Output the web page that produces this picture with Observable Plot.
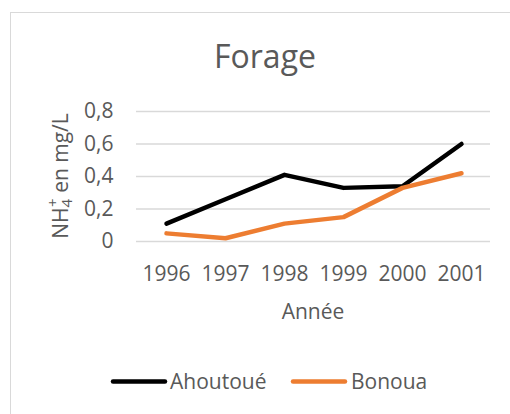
<!DOCTYPE html>
<html><head><meta charset="utf-8">
<script src="https://cdn.jsdelivr.net/npm/d3@7"></script>
<script src="https://cdn.jsdelivr.net/npm/@observablehq/plot@0.6"></script>
<style>body{margin:0;background:#fff;}svg{display:block;}</style>
</head><body><div id="chart"></div>
<script>
const years = ["1996","1997","1998","1999","2000","2001"];
const ahoutoue = [0.11, 0.26, 0.41, 0.33, 0.34, 0.60];
const bonoua = [0.05, 0.02, 0.11, 0.15, 0.33, 0.42];
const seriesNames = ["Ahoutoué", "Bonoua"];
const seriesColors = ["#000000", "#ED7D31"];
const yTicks = [0, 0.2, 0.4, 0.6, 0.8];

const data = [];
years.forEach((y, i) => {
  data.push({year: y, value: ahoutoue[i], series: seriesNames[0]});
  data.push({year: y, value: bonoua[i], series: seriesNames[1]});
});

const font = "'Open Sans', sans-serif";
const gray = "#595959";
const fmt = d => d === 0 ? "0" : String(d).replace(".", ",");

const chart = Plot.plot({
  width: 510, height: 414,
  marginLeft: 136, marginRight: 20, marginTop: 111, marginBottom: 173,
  style: {fontFamily: font, fontSize: "21px", color: gray, background: "transparent"},
  x: {type: "point", domain: years, padding: 0.5, label: null},
  y: {domain: [0, 0.8], label: null},
  color: {domain: seriesNames, range: seriesColors},
  marks: [
    Plot.gridY(yTicks, {stroke: "#d9d9d9", strokeOpacity: 1, strokeWidth: 1.3}),
    Plot.axisY(yTicks, {tickSize: 0, tickPadding: 23, tickFormat: fmt, fill: gray, fontSize: 21, label: null}),
    Plot.axisX({tickSize: 0, tickPadding: 25, fill: gray, fontSize: 21, label: null}),
    Plot.line(data, {x: "year", y: "value", stroke: "series", strokeWidth: 4.5, strokeLinejoin: "round", strokeLinecap: "round"})
  ]
});

const svg = d3.select(chart);
svg.insert("rect", ":first-child").attr("x", 10.5).attr("y", 12.5).attr("width", 520).attr("height", 420)
  .attr("fill", "none").attr("stroke", "#d9d9d9").attr("stroke-width", 1);
svg.append("text").attr("x", 265).attr("y", 68).attr("text-anchor", "middle")
  .attr("font-family", font).attr("font-size", 32).attr("fill", gray).text("Forage");
const xs = chart.scale("x"), ys = chart.scale("y");
svg.append("text").attr("x", (xs.range[0] + xs.range[1]) / 2).attr("y", 319).attr("text-anchor", "middle")
  .attr("font-family", font).attr("font-size", 21).attr("fill", gray).text("Année");
const yl = svg.append("text").attr("transform", `translate(68,${(ys.range[0] + ys.range[1]) / 2}) rotate(-90)`)
  .attr("text-anchor", "middle").attr("font-family", font).attr("font-size", 21).attr("fill", gray);
yl.append("tspan").text("NH");
yl.append("tspan").attr("font-size", 15).attr("dy", 4).text("4");
yl.append("tspan").attr("font-size", 15).attr("dy", -14).attr("dx", -8).text("+");
yl.append("tspan").attr("dy", 10).text(" en mg/L");
const leg = [{x1: 113, x2: 165, tx: 170}, {x1: 293, x2: 345, tx: 351}];
seriesNames.forEach((n, i) => {
  svg.append("line").attr("x1", leg[i].x1).attr("x2", leg[i].x2).attr("y1", 381.5).attr("y2", 381.5)
    .attr("stroke", seriesColors[i]).attr("stroke-width", 4.5).attr("stroke-linecap", "round");
  svg.append("text").attr("x", leg[i].tx).attr("y", 388.5).attr("text-anchor", "start")
    .attr("font-family", font).attr("font-size", 21).attr("fill", gray).text(n);
});
document.getElementById("chart").appendChild(chart);
</script></body></html>
